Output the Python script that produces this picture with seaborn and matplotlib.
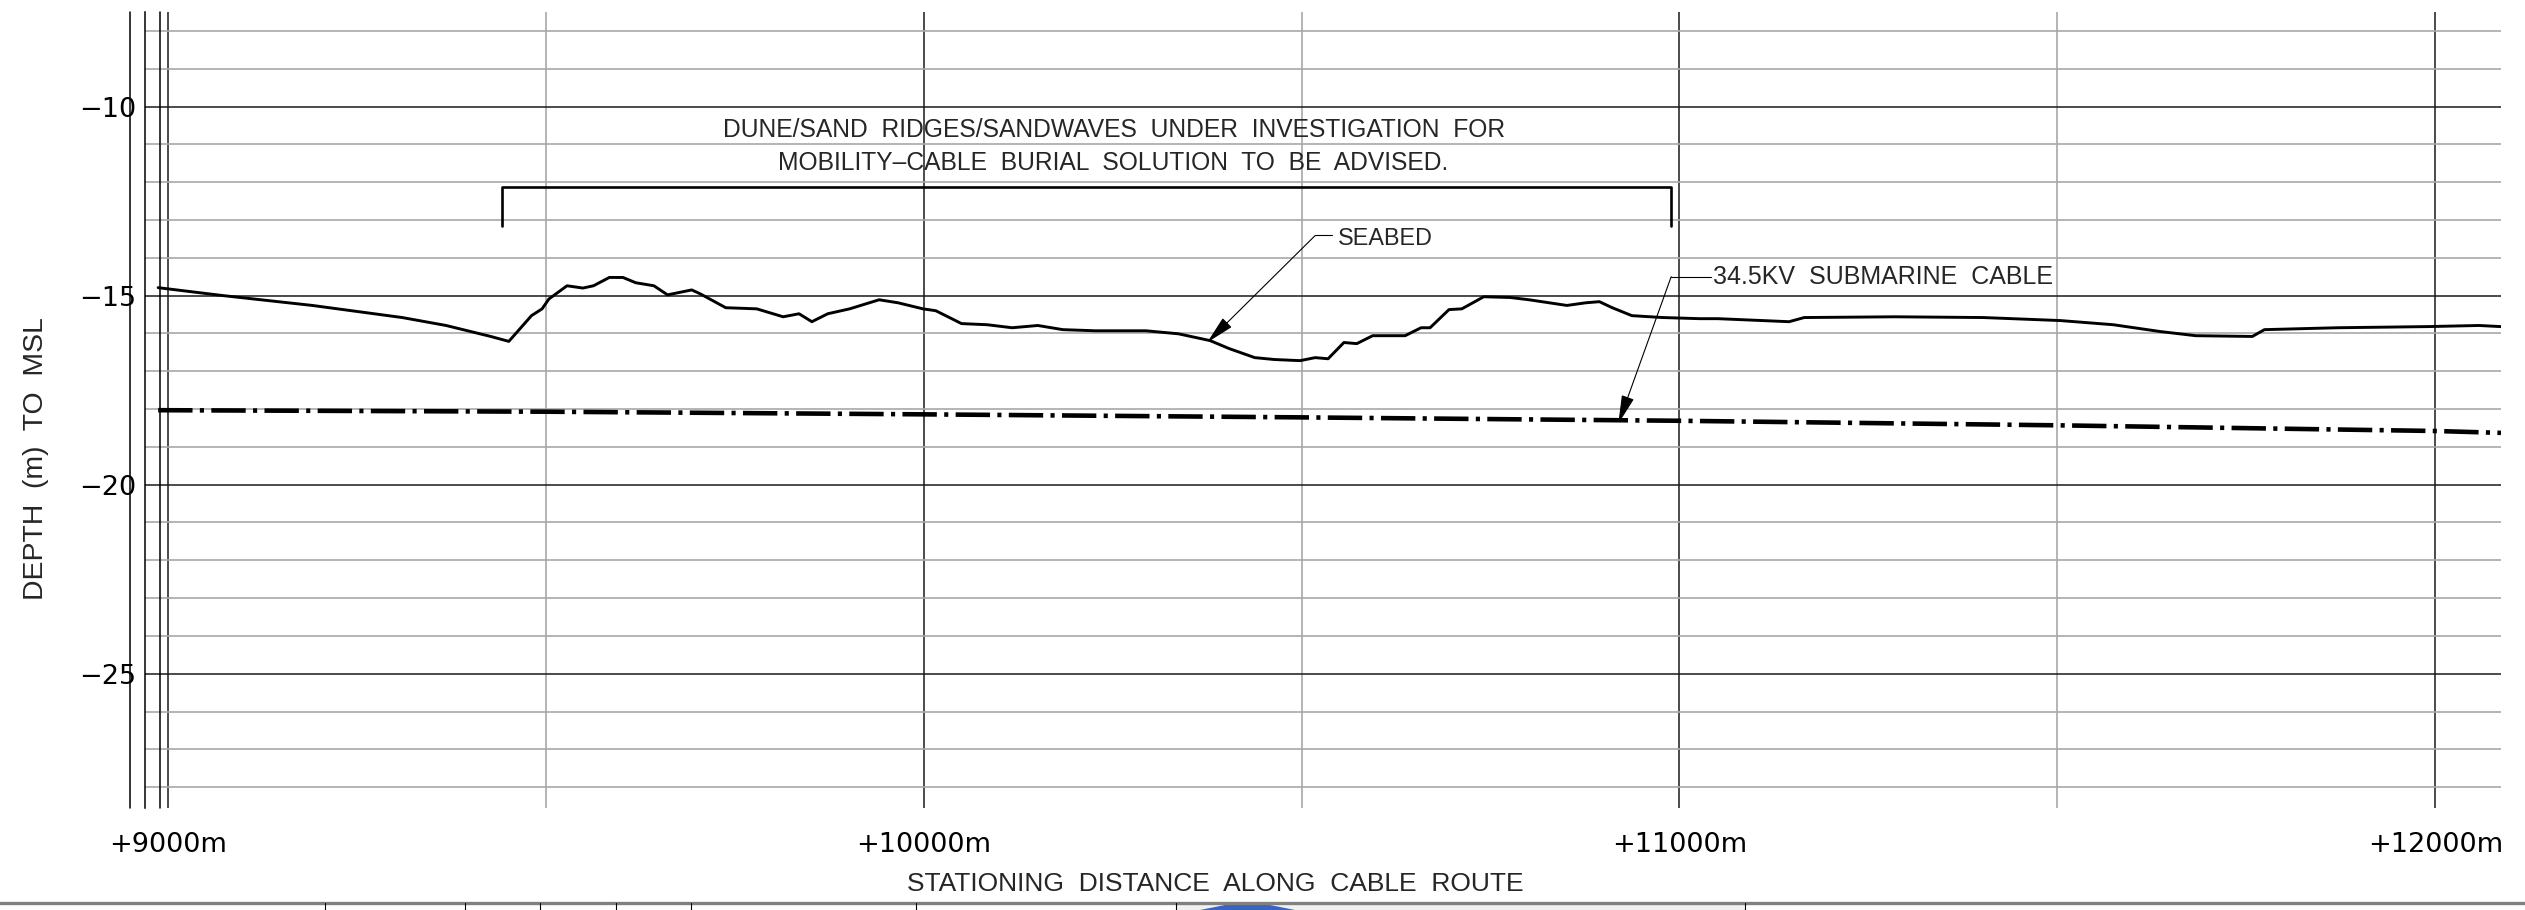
import seaborn as sns
import matplotlib.pyplot as plt
from matplotlib import font_manager
from matplotlib.lines import Line2D
from matplotlib.patches import Polygon, Rectangle

# Seabed profile (chainage in m, level in m to MSL) -----
seabed_x = [8987, 9073, 9191, 9310, 9368, 9427, 9451, 9466, 9481, 9495,
            9504, 9528, 9549, 9563, 9584, 9602, 9619, 9643, 9661, 9693,
            9704, 9738, 9779, 9814, 9835, 9852, 9873, 9902, 9941, 9966,
            9999, 10016, 10050, 10084, 10117, 10151, 10184, 10227, 10294, 10337,
            10379, 10404, 10438, 10464, 10498, 10518, 10535, 10556, 10573, 10594,
            10637, 10658, 10670, 10695, 10712, 10741, 10776, 10801, 10851, 10876,
            10894, 10911, 10937, 10978, 11027, 11051, 11145, 11165, 11285, 11402,
            11504, 11574, 11636, 11683, 11758, 11774, 11870, 11988, 12058, 12087]
seabed_z = [-14.79, -15.00, -15.26, -15.58, -15.79, -16.08, -16.21, -15.87, -15.53, -15.35,
            -15.09, -14.74, -14.80, -14.74, -14.52, -14.52, -14.66, -14.74, -14.98, -14.85,
            -14.95, -15.32, -15.35, -15.56, -15.48, -15.69, -15.48, -15.35, -15.11, -15.19,
            -15.35, -15.40, -15.74, -15.77, -15.85, -15.79, -15.90, -15.93, -15.93, -16.01,
            -16.19, -16.40, -16.64, -16.69, -16.72, -16.64, -16.67, -16.24, -16.27, -16.06,
            -16.06, -15.85, -15.85, -15.37, -15.35, -15.03, -15.05, -15.11, -15.26, -15.19,
            -15.16, -15.32, -15.53, -15.58, -15.61, -15.61, -15.69, -15.58, -15.56, -15.58,
            -15.66, -15.77, -15.95, -16.06, -16.08, -15.90, -15.85, -15.82, -15.79, -15.82]

# Cable level
cable_x = [8987, 9500, 10000, 10500, 11000, 11500, 12000, 12087]
cable_z = [-18.03, -18.07, -18.14, -18.22, -18.31, -18.43, -18.58, -18.63]

# Axes ticks
x_major = [9000, 10000, 11000, 12000]
x_major_labels = ["+9000m", "+10000m", "+11000m", "+12000m"]
x_minor = [9500, 10500, 11500]
y_major = [-25, -20, -15, -10]
y_minor = list(range(-28, -7))

# Notes
note_lines = ["DUNE/SAND  RIDGES/SANDWAVES  UNDER  INVESTIGATION  FOR",
              "MOBILITY\u2013CABLE  BURIAL  SOLUTION  TO  BE  ADVISED."]
bracket_x = [9442, 10989]
bracket_z = [-12.14, -13.15]

sns.set_theme(style="white")
names = {f.name for f in font_manager.fontManager.ttflist}
narrow = "Liberation Sans Narrow" if "Liberation Sans Narrow" in names else "Liberation Sans"
plt.rcParams["font.family"] = ["DejaVu Sans"]

fig = plt.figure(figsize=(25.25, 9.10), dpi=100)
ax = fig.add_axes([145 / 2525, 1 - 808 / 910, (2501 - 145) / 2525, (808 - 12) / 910])

# grid like a CAD profile sheet
ax.set_xticks(x_major)
ax.set_xticklabels(x_major_labels)
ax.set_xticks(x_minor, minor=True)
ax.set_yticks(y_major)
ax.set_yticklabels([f"\u2212{abs(v)}" for v in y_major])
ax.set_yticks(y_minor, minor=True)
ax.grid(which="minor", color="#a8a8a8", lw=1.2)
ax.grid(which="major", color="#1a1a1a", lw=1.1)
ax.tick_params(which="both", length=0)
ax.tick_params(axis="x", pad=17, labelsize=19.5, colors="black")
ax.tick_params(axis="y", pad=6, labelsize=19.5, colors="black")
for s in ["top", "right", "bottom"]:
    ax.spines[s].set_visible(False)
ax.spines["left"].set_color("black")
ax.spines["left"].set_linewidth(1.1)

# extra border lines at the left edge
for xv in [8950, 8989]:
    ax.axvline(xv, color="black", lw=1.1, clip_on=False)

# Seabed and cable -----
sns.lineplot(x=seabed_x, y=seabed_z, ax=ax, color="black", lw=2.1, estimator=None)
sns.lineplot(x=cable_x, y=cable_z, ax=ax, color="black", lw=3.3, estimator=None,
             linestyle=(0, (7.5, 1.6, 0.9, 1.6)))

# bracket and note
ax.plot([bracket_x[0], bracket_x[0], bracket_x[1], bracket_x[1]],
        [bracket_z[1], bracket_z[0], bracket_z[0], bracket_z[1]], color="black", lw=1.9)
ax.text(10252, -10.63, note_lines[0], family=narrow, fontsize=17.7, ha="center", va="center")
ax.text(10250, -11.48, note_lines[1], family=narrow, fontsize=17.7, ha="center", va="center")

# leaders
arrow = dict(arrowstyle="-|>,head_length=0.9,head_width=0.2", color="black", lw=0.8,
             shrinkA=0, shrinkB=0, mutation_scale=20)
ax.annotate("", xy=(10375, -16.24), xytext=(10518, -13.41), arrowprops=arrow)
ax.plot([10518, 10540], [-13.41, -13.41], color="black", lw=0.8)
ax.text(10548, -13.48, "SEABED", family=narrow, fontsize=16.8, ha="left", va="center")

ax.annotate("", xy=(10919, -18.39), xytext=(10989, -14.50), arrowprops=arrow)
ax.plot([10989, 11042], [-14.50, -14.50], color="black", lw=0.8)
ax.text(11044, -14.52, "34.5KV  SUBMARINE  CABLE", family=narrow, fontsize=18,
        ha="left", va="center")

ax.set_xlim(8969.6, 12087)
ax.set_ylim(-28.55, -7.5)
ax.set_xlabel("")
ax.set_ylabel("")

fig.text(36 / 2525, 1 - 459 / 910, "DEPTH  (m)  TO  MSL", family=narrow, fontsize=20.4,
         rotation=90, ha="center", va="center")
fig.text(1215 / 2525, 1 - 884 / 910, "STATIONING  DISTANCE  ALONG  CABLE  ROUTE",
         family=narrow, fontsize=19, ha="center", va="center")

# title block edge at the bottom of the sheet
yb = 1 - 903 / 910
fig.add_artist(Rectangle((1176 / 2525, 0), (1745 - 1176) / 2525, yb, color="#f1f1f1", lw=0))
fig.add_artist(Polygon([(1200 / 2525, 0), (1235 / 2525, yb), (1260 / 2525, yb), (1295 / 2525, 0)],
                       closed=True, color="#3a63c8", lw=0))
fig.add_artist(Line2D([0, 1], [yb, yb], color="#808080", lw=2.4))
for xp in [325, 465, 540, 616, 691, 916, 1176, 1745]:
    fig.add_artist(Line2D([xp / 2525, xp / 2525], [0, yb], color="black", lw=0.8))

fig.savefig("out.png", dpi=100)
